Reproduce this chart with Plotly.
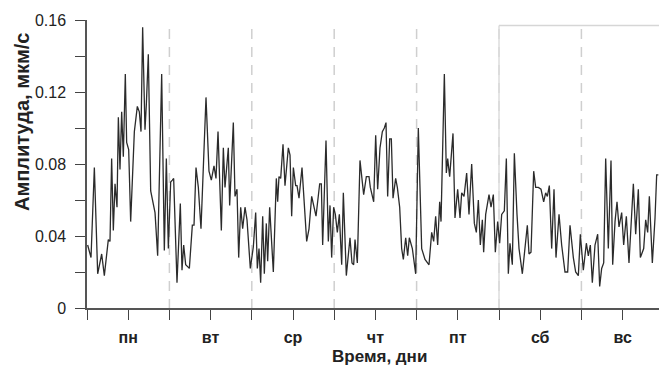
import plotly.graph_objects as go

# time in hours from Monday 00:00, amplitude in um/s
hours = [0.19, 1.17, 2.14, 3.11, 4.27, 5.05, 6.21, 6.70, 7.18, 7.67, 8.16, 8.74, 9.13, 9.61, 10.10, 10.58,
         11.16, 11.55, 12.14, 12.72, 13.79, 14.66, 15.24, 15.73, 16.21, 16.89, 17.28, 17.86, 18.55, 19.81,
         20.58, 21.75, 22.52, 23.11, 23.69, 24.37, 24.86, 25.24, 26.21, 27.18, 27.67, 28.16, 28.74, 29.81,
         30.68, 31.17, 31.75, 32.43, 33.20, 34.66, 35.53, 36.21, 36.99, 37.57, 38.16, 39.13, 39.71, 40.19,
         41.16, 41.55, 42.62, 43.11, 43.69, 44.18, 44.76, 45.34, 46.02, 46.60, 47.57, 48.45, 49.13, 49.61,
         50.10, 50.58, 51.17, 51.65, 52.23, 52.62, 53.20, 54.27, 55.14, 55.53, 55.92, 56.41, 57.09, 57.67,
         58.64, 59.13, 59.61, 60.10, 60.78, 61.17, 61.75, 62.62, 63.98, 64.66, 65.44, 66.02, 66.70, 67.77,
         68.25, 68.64, 69.61, 70.29, 70.78, 71.26, 71.84, 72.33, 72.91, 73.50, 74.18, 74.66, 75.53, 76.60,
         77.18, 77.67, 78.06, 78.74, 79.51, 80.58, 81.36, 82.14, 82.52, 83.50, 84.08, 84.66, 85.34, 86.02,
         86.60, 87.09, 87.57, 88.16, 88.64, 89.13, 89.90, 90.39, 91.07, 91.65, 92.14, 92.82, 93.40, 93.88,
         94.76, 95.73, 96.50, 97.48, 98.45, 99.61, 100.39, 100.97, 101.55, 102.14, 102.72, 103.11, 104.08,
         104.66, 105.05, 105.63, 106.60, 107.18, 107.96, 108.64, 109.13, 109.81, 110.58, 111.26, 112.04,
         112.82, 113.40, 113.98, 114.56, 115.15, 115.53, 116.12, 117.09, 117.67, 118.35, 118.93, 119.61,
         120.19, 120.78, 121.55, 122.14, 122.72, 123.20, 123.88, 124.47, 125.24, 125.83, 126.80, 127.57,
         128.25, 128.74, 129.32, 130.10, 130.68, 131.46, 132.23, 133.01, 133.59, 134.08, 134.66, 135.34,
         136.02, 136.60, 137.48, 138.25, 139.22, 140.00, 140.68, 141.65, 142.33, 143.11, 143.69, 144.56,
         145.44, 146.02, 146.60, 147.18, 147.96, 148.74, 149.32, 149.90, 150.49, 151.07, 151.84, 152.62,
         153.11, 153.79, 154.37, 154.95, 155.73, 156.31, 157.09, 157.86, 158.45, 159.13, 159.81, 160.58,
         161.17, 162.14, 162.72, 163.30, 163.79, 164.66, 165.44, 165.92, 166.41]

amplitude = [0.035, 0.028, 0.078, 0.019, 0.030, 0.018, 0.038, 0.037, 0.083, 0.043, 0.069, 0.056, 0.106, 0.077,
             0.109, 0.084, 0.130, 0.092, 0.088, 0.048, 0.098, 0.112, 0.109, 0.098, 0.156, 0.099, 0.113, 0.141,
             0.065, 0.053, 0.029, 0.130, 0.032, 0.083, 0.033, 0.070, 0.071, 0.072, 0.014, 0.058, 0.021, 0.035,
             0.024, 0.022, 0.046, 0.046, 0.078, 0.067, 0.044, 0.117, 0.076, 0.071, 0.079, 0.072, 0.098, 0.043,
             0.089, 0.067, 0.089, 0.057, 0.103, 0.062, 0.066, 0.028, 0.056, 0.044, 0.056, 0.049, 0.022, 0.034,
             0.053, 0.022, 0.033, 0.014, 0.051, 0.019, 0.047, 0.026, 0.056, 0.020, 0.072, 0.059, 0.073, 0.072,
             0.091, 0.068, 0.089, 0.085, 0.051, 0.078, 0.068, 0.068, 0.061, 0.078, 0.037, 0.044, 0.062, 0.056,
             0.051, 0.069, 0.069, 0.035, 0.093, 0.037, 0.057, 0.028, 0.056, 0.052, 0.042, 0.052, 0.024, 0.064,
             0.018, 0.039, 0.025, 0.024, 0.038, 0.025, 0.082, 0.063, 0.073, 0.073, 0.067, 0.059, 0.096, 0.066,
             0.089, 0.098, 0.100, 0.103, 0.062, 0.094, 0.094, 0.061, 0.072, 0.067, 0.056, 0.033, 0.027, 0.039,
             0.029, 0.039, 0.033, 0.019, 0.100, 0.033, 0.027, 0.024, 0.042, 0.037, 0.051, 0.035, 0.059, 0.048,
             0.130, 0.075, 0.083, 0.073, 0.097, 0.050, 0.066, 0.050, 0.064, 0.062, 0.075, 0.052, 0.080, 0.047,
             0.042, 0.060, 0.035, 0.049, 0.031, 0.052, 0.063, 0.056, 0.063, 0.031, 0.048, 0.036, 0.052, 0.054,
             0.083, 0.019, 0.036, 0.024, 0.086, 0.052, 0.033, 0.019, 0.035, 0.046, 0.030, 0.031, 0.076, 0.067,
             0.067, 0.066, 0.059, 0.064, 0.062, 0.068, 0.033, 0.066, 0.028, 0.052, 0.035, 0.020, 0.020, 0.046,
             0.028, 0.020, 0.018, 0.041, 0.021, 0.036, 0.029, 0.035, 0.014, 0.035, 0.041, 0.012, 0.022, 0.025,
             0.083, 0.033, 0.082, 0.024, 0.048, 0.059, 0.045, 0.053, 0.035, 0.051, 0.025, 0.045, 0.069, 0.041,
             0.066, 0.028, 0.033, 0.049, 0.042, 0.062, 0.025, 0.050, 0.074, 0.074]

days = ["пн", "вт", "ср", "чт", "пт", "сб", "вс"]
day_boundaries = [24, 48, 72, 96, 120, 144]
y_tick_vals = [0, 0.02, 0.04, 0.06, 0.08, 0.10, 0.12, 0.14, 0.16]
y_tick_text = ["0", "", "0.04", "", "0.08", "", "0.12", "", "0.16"]

x_tick_vals = []
x_tick_text = []
for i, d in enumerate(days):
    x_tick_vals += [24 * i, 24 * i + 12]
    x_tick_text += ["", "<b>%s</b>" % d]

FONT = "Liberation Sans, Arial, sans-serif"
GRID_C = "#cfcfcf"

fig = go.Figure()
fig.add_trace(go.Scatter(x=hours, y=amplitude, mode="lines",
                         line=dict(color="#2b2b2b", width=1.3), showlegend=False))

shapes = []
for b in day_boundaries:
    shapes.append(dict(type="line", xref="x", yref="y", x0=b, x1=b, y0=0.155, y1=0,
                       line=dict(color=GRID_C, width=1.5, dash="10px,8px"), layer="below"))
# weekend frame
shapes.append(dict(type="line", xref="x", yref="y", x0=120, x1=120, y0=0.157, y1=0,
                   line=dict(color="#dcdcdc", width=1.5), layer="below"))
shapes.append(dict(type="line", xref="x", yref="y", x0=120, x1=170, y0=0.157, y1=0.157,
                   line=dict(color="#d6d6d6", width=1.5), layer="below"))

fig.update_layout(
    width=659, height=367,
    margin=dict(l=87, r=0, t=20, b=59),
    paper_bgcolor="white", plot_bgcolor="white",
    shapes=shapes,
    font=dict(family=FONT, color="#222222", size=16),
    xaxis=dict(range=[0, 166.6], tickvals=x_tick_vals, ticktext=x_tick_text,
               ticks="outside", ticklen=10, tickwidth=1.3, tickcolor="#444",
               showline=True, linecolor="#555", linewidth=1.5, showgrid=False, zeroline=False,
               tickfont=dict(size=16, family=FONT, color="#222"), ticklabelstandoff=4),
    yaxis=dict(range=[0, 0.16], tickvals=y_tick_vals, ticktext=y_tick_text,
               ticks="outside", ticklen=10, tickwidth=1.3, tickcolor="#444",
               showline=True, linecolor="#555", linewidth=1.5, showgrid=False, zeroline=False,
               tickfont=dict(size=16, family=FONT, color="#222"), ticklabelstandoff=6),
    annotations=[
        dict(text="<b>Амплитуда, мкм/с</b>", xref="paper", yref="paper",
             x=(22 - 87) / 572, y=(308 - 122) / 288, textangle=-90, showarrow=False,
             xanchor="center", yanchor="middle", font=dict(size=20, family=FONT, color="#222")),
        dict(text="<b>Время, дни</b>", xref="paper", yref="paper",
             x=(380 - 87) / 572, y=(308 - 356.5) / 288, showarrow=False,
             xanchor="center", yanchor="middle", font=dict(size=17, family=FONT, color="#222")),
    ],
)

fig.write_html("out.html")
